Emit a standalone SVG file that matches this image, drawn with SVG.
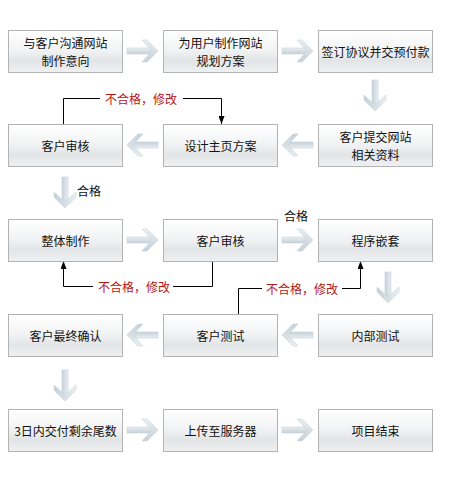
<svg xmlns="http://www.w3.org/2000/svg" xmlns:xlink="http://www.w3.org/1999/xlink" width="474" height="485" viewBox="0 0 474 485">
<defs>
<linearGradient id="bg" x1="0" y1="0" x2="0" y2="1">
<stop offset="0" stop-color="#ffffff"/>
<stop offset="0.45" stop-color="#f2f3f4"/>
<stop offset="0.72" stop-color="#e2e5e7"/>
<stop offset="1" stop-color="#eff0f1"/>
</linearGradient>
<linearGradient id="ag" x1="0" y1="0" x2="0" y2="1">
<stop offset="0" stop-color="#e9eff2"/>
<stop offset="1" stop-color="#c4d0d8"/>
</linearGradient>
<g id="arr">
<rect x="0" y="-3" width="24" height="6" fill="url(#ag)" stroke="#c9d3da" stroke-width="0.6"/>
<polygon points="15,-11 20,-11 31,0 20,11 15,11 25,0" fill="url(#ag)" stroke="#c9d3da" stroke-width="0.6"/>
</g>
<marker id="ah" viewBox="0 0 8 6" refX="8" refY="3" markerWidth="8" markerHeight="6" markerUnits="userSpaceOnUse" orient="auto">
<path d="M0,0 L8,3 L0,6 Z" fill="#000"/>
</marker>
</defs>
<style>
.box{fill:url(#bg);stroke:#b3b3b3;stroke-width:1}
.t{font-family:"Noto Sans CJK SC","Liberation Sans",sans-serif;font-size:12px;fill:#111;text-anchor:middle;dominant-baseline:central}
.r{font-family:"Noto Sans CJK SC","Liberation Sans",sans-serif;font-size:12px;fill:#b41818;text-anchor:middle;dominant-baseline:central}
.ln{fill:none;stroke:#000;stroke-width:1}
</style>
<rect width="474" height="485" fill="#fff"/>
<g id="connectors">
<use xlink:href="#arr" transform="translate(127,51)"/>
<use xlink:href="#arr" transform="translate(282,51)"/>
<use xlink:href="#arr" transform="translate(375,80) rotate(90)"/>
<use xlink:href="#arr" transform="translate(313,145) rotate(180)"/>
<use xlink:href="#arr" transform="translate(158,145) rotate(180)"/>
<use xlink:href="#arr" transform="translate(65,177) rotate(90)"/>
<use xlink:href="#arr" transform="translate(127,240)"/>
<use xlink:href="#arr" transform="translate(282,240)"/>
<use xlink:href="#arr" transform="translate(388,272) rotate(90)"/>
<use xlink:href="#arr" transform="translate(313,335) rotate(180)"/>
<use xlink:href="#arr" transform="translate(158,335) rotate(180)"/>
<use xlink:href="#arr" transform="translate(65,370) rotate(90)"/>
<use xlink:href="#arr" transform="translate(127,430)"/>
<use xlink:href="#arr" transform="translate(282,430)"/>
<polyline class="ln" points="63.5,124 63.5,98.5 100,98.5"/>
<polyline class="ln" points="183,98.5 221.5,98.5 221.5,124" marker-end="url(#ah)"/>
<polyline class="ln" points="93,286.5 63.5,286.5 63.5,261" marker-end="url(#ah)"/>
<polyline class="ln" points="212.5,261 212.5,286.5 173,286.5"/>
<polyline class="ln" points="238.5,314 238.5,288.5 262,288.5"/>
<polyline class="ln" points="342,288.5 360.5,288.5 360.5,261" marker-end="url(#ah)"/>
<text class="r" x="141" y="98">不合格，修改</text>
<text class="r" x="134" y="286">不合格，修改</text>
<text class="r" x="302" y="288">不合格，修改</text>
<text class="t" x="89" y="190">合格</text>
<text class="t" x="296" y="215">合格</text>
</g>
<g id="n1"><rect class="box" x="8.5" y="30.5" width="114" height="42"/><text class="t" x="65.5" y="42.5">与客户沟通网站</text><text class="t" x="65.5" y="60.5">制作意向</text></g>
<g id="n2"><rect class="box" x="163.5" y="30.5" width="114" height="42"/><text class="t" x="220.5" y="42.5">为用户制作网站</text><text class="t" x="220.5" y="60.5">规划方案</text></g>
<g id="n3"><rect class="box" x="318.5" y="30.5" width="114" height="42"/><text class="t" x="375.5" y="51.5">签订协议并交预付款</text></g>
<g id="n4"><rect class="box" x="8.5" y="124.5" width="114" height="42"/><text class="t" x="65.5" y="145.5">客户审核</text></g>
<g id="n5"><rect class="box" x="163.5" y="124.5" width="114" height="42"/><text class="t" x="220.5" y="145.5">设计主页方案</text></g>
<g id="n6"><rect class="box" x="318.5" y="124.5" width="114" height="42"/><text class="t" x="375.5" y="136.5">客户提交网站</text><text class="t" x="375.5" y="154.5">相关资料</text></g>
<g id="n7"><rect class="box" x="8.5" y="219.5" width="114" height="42"/><text class="t" x="65.5" y="240.5">整体制作</text></g>
<g id="n8"><rect class="box" x="163.5" y="219.5" width="114" height="42"/><text class="t" x="220.5" y="240.5">客户审核</text></g>
<g id="n9"><rect class="box" x="318.5" y="219.5" width="114" height="42"/><text class="t" x="375.5" y="240.5">程序嵌套</text></g>
<g id="n10"><rect class="box" x="8.5" y="314.5" width="114" height="42"/><text class="t" x="65.5" y="335.5">客户最终确认</text></g>
<g id="n11"><rect class="box" x="163.5" y="314.5" width="114" height="42"/><text class="t" x="220.5" y="335.5">客户测试</text></g>
<g id="n12"><rect class="box" x="318.5" y="314.5" width="114" height="42"/><text class="t" x="375.5" y="335.5">内部测试</text></g>
<g id="n13"><rect class="box" x="8.5" y="409.5" width="114" height="42"/><text class="t" x="65.5" y="430.5">3日内交付剩余尾数</text></g>
<g id="n14"><rect class="box" x="163.5" y="409.5" width="114" height="42"/><text class="t" x="220.5" y="430.5">上传至服务器</text></g>
<g id="n15"><rect class="box" x="318.5" y="409.5" width="114" height="42"/><text class="t" x="375.5" y="430.5">项目结束</text></g>
</svg>
